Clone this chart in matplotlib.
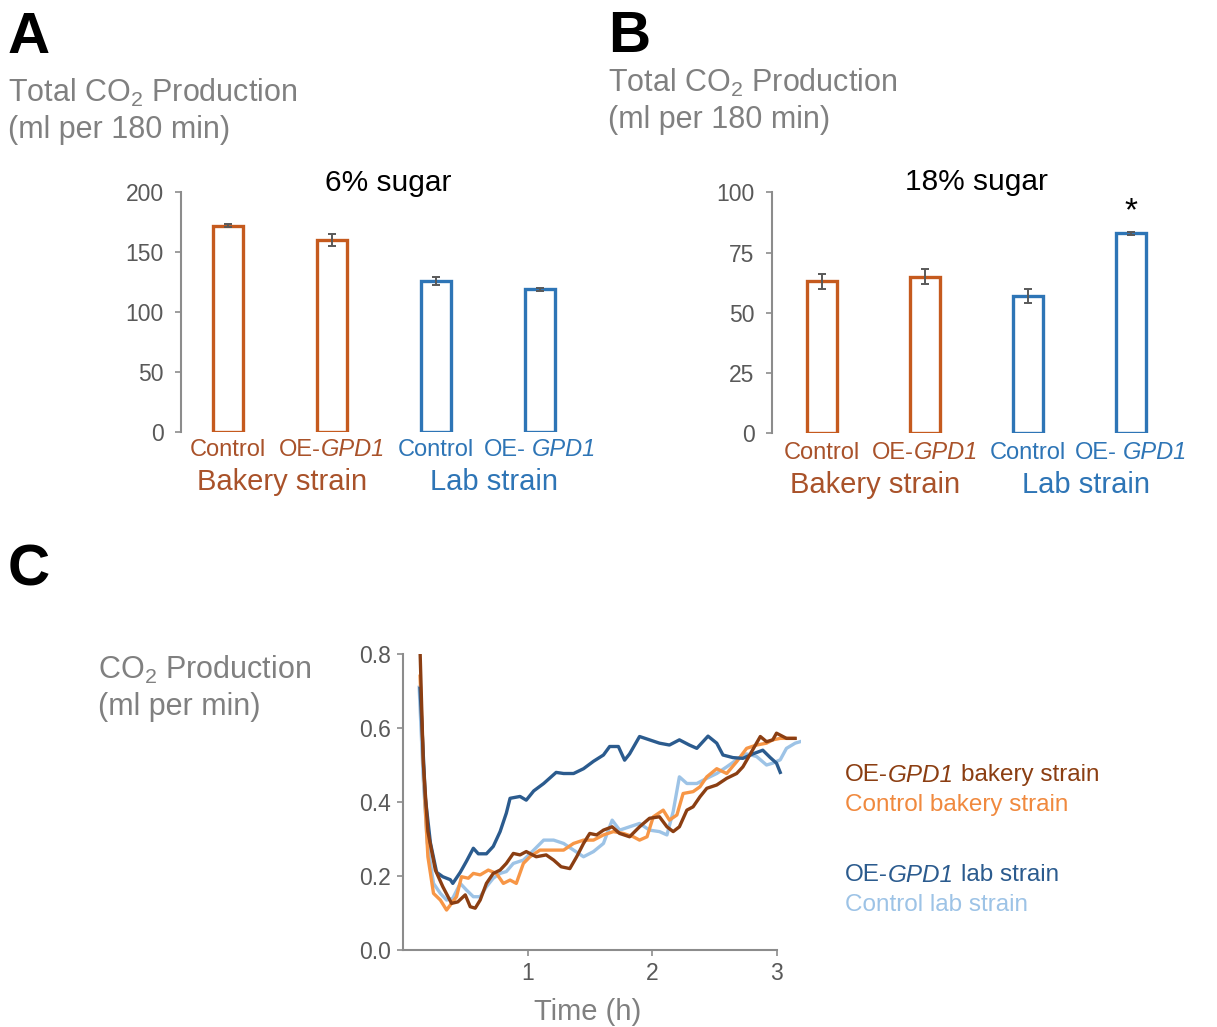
import matplotlib
matplotlib.use("Agg")
import matplotlib.pyplot as plt

plt.rcParams['font.family'] = ['Liberation Sans', 'DejaVu Sans']
plt.rcParams['mathtext.fontset'] = 'custom'
plt.rcParams['mathtext.rm'] = 'Liberation Sans'
plt.rcParams['mathtext.it'] = 'Liberation Sans:italic'

# ---- data ----
# each label: (text, italic, space before)
bar_labels = [[('Control', False, False)],
              [('OE-', False, False), ('GPD1', True, False)],
              [('Control', False, False)],
              [('OE-', False, False), ('GPD1', True, True)]]
groups = ['Bakery strain', 'Lab strain']

co2_6 = [172, 160, 126, 119]
err_6 = [1.0, 5.0, 3.5, 1.2]
co2_18 = [63, 65, 57, 83]
err_18 = [3.0, 3.2, 3.0, 0.5]

# time courses (h, ml/min)
t_lab_ctrl = [0.13, 0.163, 0.195, 0.245, 0.30, 0.35, 0.40, 0.46, 0.51, 0.565, 0.62, 0.67,
              0.725, 0.78, 0.83, 0.886, 0.967, 1.05, 1.13, 1.21, 1.29, 1.37, 1.45, 1.53,
              1.61, 1.68, 1.74, 1.82, 1.90, 1.98, 2.06, 2.12, 2.17, 2.22, 2.28, 2.36,
              2.44, 2.52, 2.60, 2.68, 2.76, 2.84, 2.92, 2.97, 3.03, 3.08, 3.15, 3.19]
v_lab_ctrl = [0.71, 0.46, 0.29, 0.18, 0.153, 0.135, 0.14, 0.18, 0.162, 0.144, 0.144, 0.171,
              0.194, 0.207, 0.212, 0.234, 0.243, 0.27, 0.297, 0.297, 0.288, 0.27, 0.252, 0.266,
              0.288, 0.351, 0.324, 0.333, 0.342, 0.324, 0.32, 0.311, 0.374, 0.468, 0.45, 0.45,
              0.464, 0.477, 0.495, 0.514, 0.53, 0.523, 0.50, 0.505, 0.514, 0.545, 0.559, 0.563]

t_bak_ctrl = [0.137, 0.177, 0.20, 0.245, 0.30, 0.35, 0.39, 0.43, 0.47, 0.525, 0.565, 0.62,
              0.685, 0.75, 0.806, 0.86, 0.91, 0.967, 1.02, 1.10, 1.21, 1.29, 1.37, 1.45,
              1.53, 1.61, 1.69, 1.77, 1.85, 1.90, 1.96, 2.01, 2.09, 2.14, 2.20, 2.25,
              2.33, 2.385, 2.44, 2.52, 2.60, 2.68, 2.76, 2.84, 2.92, 2.97, 3.03, 3.14]
v_bak_ctrl = [0.74, 0.396, 0.252, 0.153, 0.135, 0.108, 0.126, 0.144, 0.198, 0.194, 0.207, 0.203,
              0.216, 0.207, 0.18, 0.189, 0.18, 0.234, 0.252, 0.27, 0.27, 0.27, 0.288, 0.297,
              0.297, 0.311, 0.32, 0.315, 0.306, 0.297, 0.306, 0.36, 0.378, 0.351, 0.365, 0.423,
              0.428, 0.441, 0.468, 0.49, 0.477, 0.509, 0.545, 0.554, 0.559, 0.568, 0.572, 0.572]

t_lab_oe = [0.137, 0.18, 0.22, 0.27, 0.32, 0.38, 0.40, 0.46, 0.51, 0.565, 0.605, 0.67,
            0.725, 0.78, 0.83, 0.86, 0.94, 0.99, 1.05, 1.13, 1.23, 1.29, 1.37, 1.45,
            1.53, 1.61, 1.66, 1.73, 1.78, 1.82, 1.90, 1.98, 2.06, 2.14, 2.22, 2.30,
            2.36, 2.45, 2.52, 2.57, 2.65, 2.73, 2.81, 2.89, 2.95, 3.00, 3.03]
v_lab_oe = [0.707, 0.41, 0.29, 0.21, 0.198, 0.19, 0.18, 0.21, 0.24, 0.275, 0.26, 0.26,
            0.28, 0.32, 0.37, 0.41, 0.415, 0.405, 0.43, 0.45, 0.48, 0.477, 0.477, 0.49,
            0.51, 0.527, 0.55, 0.55, 0.513, 0.53, 0.577, 0.568, 0.559, 0.554, 0.568, 0.554,
            0.545, 0.578, 0.559, 0.527, 0.52, 0.518, 0.53, 0.54, 0.52, 0.505, 0.48]

t_bak_oe = [0.137, 0.163, 0.20, 0.26, 0.32, 0.39, 0.44, 0.50, 0.54, 0.58, 0.62, 0.67,
            0.725, 0.78, 0.83, 0.886, 0.94, 0.99, 1.07, 1.15, 1.21, 1.27, 1.34, 1.395,
            1.45, 1.50, 1.555, 1.61, 1.68, 1.74, 1.82, 1.90, 1.98, 2.06, 2.12, 2.17,
            2.22, 2.28, 2.33, 2.385, 2.44, 2.52, 2.60, 2.68, 2.73, 2.79, 2.87, 2.92,
            2.97, 3.00, 3.08, 3.15]
v_bak_oe = [0.81, 0.505, 0.32, 0.216, 0.171, 0.126, 0.13, 0.149, 0.117, 0.113, 0.135, 0.18,
            0.207, 0.216, 0.234, 0.261, 0.257, 0.266, 0.252, 0.257, 0.243, 0.225, 0.22, 0.252,
            0.288, 0.315, 0.311, 0.324, 0.333, 0.315, 0.306, 0.333, 0.356, 0.36, 0.333, 0.32,
            0.333, 0.378, 0.387, 0.414, 0.437, 0.446, 0.464, 0.477, 0.495, 0.53, 0.577, 0.563,
            0.568, 0.586, 0.572, 0.572]

# ---- style ----
BAKERY = '#C55A1E'
BAKERY_TXT = '#A9522A'
LAB = '#2E75B6'
GREY = '#808080'
TICK = '#595959'
SPINE = '#8C8C8C'

W, H = 1217, 1027
fig = plt.figure(figsize=(W / 100, H / 100), dpi=100)
renderer = fig.canvas.get_renderer()


def ax_px(left, top, right, bottom):
    return fig.add_axes([left / W, 1 - bottom / H, (right - left) / W, (bottom - top) / H])


def ftext(x, y, s, **kw):
    kw.setdefault('va', 'center')
    return fig.text(x / W, 1 - y / H, s, **kw)


def text_width(s, size, italic=False):
    t = fig.text(0, 0, s, fontsize=size, style='italic' if italic else 'normal')
    w = t.get_window_extent(renderer).width
    t.remove()
    return w


def rich(x, y, pieces, size, color, ha='left'):
    # pieces of mixed upright / italic text laid out side by side (y from top, px)
    space = text_width('a a', size) - text_width('aa', size)
    ws = [text_width(s, size, it) for s, it, _ in pieces]
    total = sum(ws) + space * sum(1 for _, _, g in pieces if g)
    pos = x - total / 2 if ha == 'center' else x
    for (s, it, gap), w in zip(pieces, ws):
        if gap:
            pos += space
        ftext(pos, y, s, fontsize=size, color=color, style='italic' if it else 'normal')
        pos += w


def style(ax):
    for s in ['top', 'right', 'bottom']:
        ax.spines[s].set_visible(False)
    ax.spines['left'].set_color(SPINE)
    ax.spines['left'].set_linewidth(1.5)
    ax.tick_params(axis='y', direction='out', length=4.5, width=1.2, color=SPINE,
                   labelsize=16.5, labelcolor=TICK, pad=8)
    ax.set_xticks([])
    ax.patch.set_alpha(0)


def bar_panel(ax, vals, errs, ylim, ticks, lab_y, grp_y, star=False):
    xs = list(range(len(vals)))
    cols = [BAKERY, BAKERY, LAB, LAB]
    tcols = [BAKERY_TXT, BAKERY_TXT, LAB, LAB]
    ax.bar(xs, vals, width=0.29, facecolor='white', edgecolor=cols, linewidth=2.4, zorder=2)
    ax.errorbar(xs, vals, yerr=errs, fmt='none', ecolor='#595959', elinewidth=1.4,
                capsize=3, capthick=1.4, zorder=3)
    ax.set_ylim(*ylim)
    ax.set_yticks(ticks)
    style(ax)

    def xpix(x):
        return ax.transData.transform((x, 0))[0]

    for x, lab, c in zip(xs, bar_labels, tcols):
        rich(xpix(x), lab_y, lab, 17, c, ha='center')
    ftext(xpix(0.52), grp_y, groups[0], fontsize=21, color=BAKERY_TXT, ha='center')
    ftext(xpix(2.56), grp_y, groups[1], fontsize=21, color=LAB, ha='center')
    if star:
        ax.text(3, 92, '*', ha='center', va='center', fontsize=24, color='black')


# Panel A
axA = ax_px(181, 192, 601, 432)
axA.set_xlim(-0.452, 3.587)
bar_panel(axA, co2_6, err_6, (0, 200), [0, 50, 100, 150, 200], 450, 482)
ftext(388, 183, '6% sugar', fontsize=21.5, ha='center')
ftext(8, 38, 'A', fontsize=42, fontweight='bold')
ftext(8, 93, 'Total CO$_2$ Production', fontsize=22, color=GREY)
ftext(8, 130, '(ml per 180 min)', fontsize=22, color=GREY)

# Panel B
axB = ax_px(772, 192.5, 1200, 433)
axB.set_xlim(-0.485, 3.67)
bar_panel(axB, co2_18, err_18, (0, 100), [0, 25, 50, 75, 100], 453, 485, star=True)
ftext(976, 182, '18% sugar', fontsize=21.5, ha='center')
ftext(608, 37, 'B', fontsize=42, fontweight='bold')
ftext(608, 83, 'Total CO$_2$ Production', fontsize=22, color=GREY)
ftext(608, 120, '(ml per 180 min)', fontsize=22, color=GREY)

# Panel C
axC = ax_px(403, 654, 403 + 3.2 * 124.5, 950)
axC.plot(t_lab_ctrl, v_lab_ctrl, color='#9DC3E6', lw=2.4)
axC.plot(t_bak_ctrl, v_bak_ctrl, color='#F79646', lw=2.4)
axC.plot(t_lab_oe, v_lab_oe, color='#2B5B8E', lw=2.4)
axC.plot(t_bak_oe, v_bak_oe, color='#8B3E12', lw=2.4)
axC.set_xlim(0, 3.2)
axC.set_ylim(0, 0.8)
for s in ['top', 'right']:
    axC.spines[s].set_visible(False)
for s in ['left', 'bottom']:
    axC.spines[s].set_color(SPINE)
    axC.spines[s].set_linewidth(1.5)
axC.spines['bottom'].set_bounds(0, 3)
axC.set_yticks([0, 0.2, 0.4, 0.6, 0.8])
axC.set_yticklabels(['0.0', '0.2', '0.4', '0.6', '0.8'])
axC.set_xticks([1, 2, 3])
axC.tick_params(direction='out', length=4, width=1.2, color=SPINE, labelsize=16.5,
                labelcolor=TICK, pad=5)
axC.patch.set_alpha(0)
ftext(588, 1012, 'Time (h)', fontsize=21, color=GREY, ha='center')
ftext(8, 570, 'C', fontsize=42, fontweight='bold')
ftext(98, 670, 'CO$_2$ Production', fontsize=22, color=GREY)
ftext(98, 707, '(ml per min)', fontsize=22, color=GREY)

rich(845, 775, [('OE-', False, False), ('GPD1', True, False), ('bakery strain', False, True)],
     17.5, '#8B3E12')
ftext(845, 805, 'Control bakery strain', fontsize=17.5, color='#F0893E')
rich(845, 875, [('OE-', False, False), ('GPD1', True, False), ('lab strain', False, True)],
     17.5, '#2B5B8E')
ftext(845, 905, 'Control lab strain', fontsize=17.5, color='#9DC3E6')

fig.savefig('out.png', dpi=100)
